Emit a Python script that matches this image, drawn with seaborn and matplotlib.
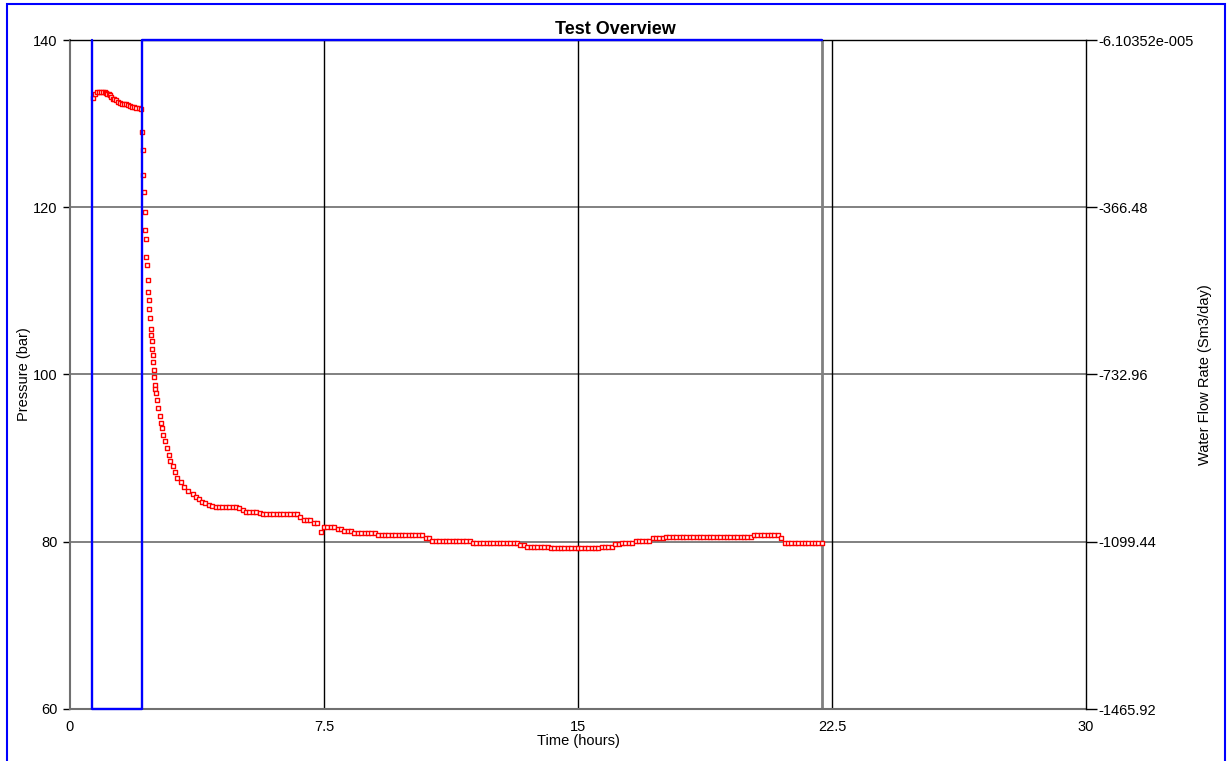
import matplotlib
matplotlib.use("Agg")
import matplotlib.pyplot as plt
from matplotlib.patches import Rectangle
import seaborn as sns
import pandas as pd

# Gauge pressure record (hours, bar)
time_h = [
    0.69, 0.74, 0.80, 0.86, 0.92, 0.97, 1.02, 1.06, 1.10, 1.14,
    1.18, 1.22, 1.26, 1.30, 1.36, 1.42, 1.48, 1.54, 1.60, 1.65,
    1.71, 1.77, 1.83, 1.89, 1.96, 2.03, 2.10,
    2.126, 2.150, 2.170, 2.190, 2.205, 2.220, 2.235, 2.255, 2.270, 2.290,
    2.305, 2.325, 2.340, 2.365, 2.383, 2.405, 2.421, 2.435, 2.448, 2.460,
    2.472, 2.485, 2.505, 2.519, 2.548, 2.578, 2.606, 2.647, 2.678, 2.708,
    2.755, 2.796, 2.855, 2.914, 2.961, 3.032, 3.091, 3.168, 3.269, 3.366,
    3.493, 3.622, 3.720,
    3.8, 3.9, 4.0, 4.1, 4.2, 4.3, 4.4, 4.5, 4.6, 4.7,
    4.8, 4.9, 5.0, 5.1, 5.2, 5.3, 5.4, 5.5, 5.6, 5.7,
    5.8, 5.9, 6.0, 6.1, 6.2, 6.3, 6.4, 6.5, 6.6, 6.7,
    6.8, 6.9, 7.0, 7.1, 7.2, 7.3, 7.4, 7.5, 7.6, 7.7,
    7.8, 7.9, 8.0, 8.1, 8.2, 8.3, 8.4, 8.5, 8.6, 8.7,
    8.8, 8.9, 9.0, 9.1, 9.2, 9.3, 9.4, 9.5, 9.6, 9.7,
    9.8, 9.9, 10.0, 10.1, 10.2, 10.3, 10.4, 10.5, 10.6, 10.7,
    10.8, 10.9, 11.0, 11.1, 11.2, 11.3, 11.4, 11.5, 11.6, 11.7,
    11.8, 11.9, 12.0, 12.1, 12.2, 12.3, 12.4, 12.5, 12.6, 12.7,
    12.8, 12.9, 13.0, 13.1, 13.2, 13.3, 13.4, 13.5, 13.6, 13.7,
    13.8, 13.9, 14.0, 14.1, 14.2, 14.3, 14.4, 14.5, 14.6, 14.7,
    14.8, 14.9, 15.0, 15.1, 15.2, 15.3, 15.4, 15.5, 15.6, 15.7,
    15.8, 15.9, 16.0, 16.1, 16.2, 16.3, 16.4, 16.5, 16.6, 16.7,
    16.8, 16.9, 17.0, 17.1, 17.2, 17.3, 17.4, 17.5, 17.6, 17.7,
    17.8, 17.9, 18.0, 18.1, 18.2, 18.3, 18.4, 18.5, 18.6, 18.7,
    18.8, 18.9, 19.0, 19.1, 19.2, 19.3, 19.4, 19.5, 19.6, 19.7,
    19.8, 19.9, 20.0, 20.1, 20.2, 20.3, 20.4, 20.5, 20.6, 20.7,
    20.8, 20.9, 21.0, 21.1, 21.2, 21.3, 21.4, 21.5, 21.6, 21.7,
    21.8, 21.9, 22.0, 22.1, 22.2,
]
pressure_bar = [
    133.1, 133.5, 133.8, 133.8, 133.8, 133.8, 133.8, 133.7, 133.6, 133.5,
    133.4, 133.2, 133.0, 132.9, 132.8, 132.6, 132.5, 132.4, 132.3, 132.3,
    132.2, 132.1, 132.0, 132.0, 131.9, 131.9, 131.7,
    129.0, 126.9, 123.9, 121.8, 119.4, 117.3, 116.2, 114.1, 113.1, 111.3,
    109.9, 108.9, 107.8, 106.8, 105.4, 104.7, 104.0, 103.0, 102.3, 101.5,
    100.5, 99.7, 98.7, 98.3, 97.8, 97.0, 96.0, 95.0, 94.2, 93.6,
    92.8, 92.1, 91.2, 90.4, 89.6, 89.0, 88.4, 87.6, 87.1, 86.6,
    86.1, 85.7, 85.3,
    85.1, 84.8, 84.6, 84.4, 84.3, 84.1, 84.1, 84.1, 84.1, 84.1,
    84.1, 84.1, 84.0, 83.8, 83.6, 83.6, 83.6, 83.6, 83.4, 83.3,
    83.3, 83.3, 83.3, 83.3, 83.3, 83.3, 83.3, 83.3, 83.3, 83.3,
    82.9, 82.6, 82.6, 82.6, 82.3, 82.3, 81.2, 81.8, 81.8, 81.8,
    81.8, 81.5, 81.5, 81.3, 81.3, 81.3, 81.1, 81.1, 81.1, 81.1,
    81.1, 81.1, 81.1, 80.8, 80.8, 80.8, 80.8, 80.8, 80.8, 80.8,
    80.8, 80.8, 80.8, 80.8, 80.8, 80.8, 80.8, 80.4, 80.4, 80.1,
    80.1, 80.1, 80.1, 80.1, 80.1, 80.1, 80.1, 80.1, 80.1, 80.1,
    80.1, 79.9, 79.9, 79.9, 79.9, 79.9, 79.9, 79.9, 79.9, 79.9,
    79.9, 79.9, 79.9, 79.9, 79.9, 79.6, 79.6, 79.4, 79.4, 79.4,
    79.4, 79.4, 79.4, 79.4, 79.2, 79.2, 79.2, 79.2, 79.2, 79.2,
    79.2, 79.2, 79.2, 79.2, 79.2, 79.2, 79.2, 79.2, 79.2, 79.4,
    79.4, 79.4, 79.4, 79.7, 79.7, 79.9, 79.9, 79.9, 79.9, 80.1,
    80.1, 80.1, 80.1, 80.1, 80.4, 80.4, 80.4, 80.4, 80.6, 80.6,
    80.6, 80.6, 80.6, 80.6, 80.6, 80.6, 80.6, 80.6, 80.6, 80.6,
    80.6, 80.6, 80.6, 80.6, 80.6, 80.6, 80.6, 80.6, 80.6, 80.6,
    80.6, 80.6, 80.6, 80.6, 80.8, 80.8, 80.8, 80.8, 80.8, 80.8,
    80.8, 80.8, 80.5, 79.9, 79.9, 79.9, 79.9, 79.9, 79.9, 79.9,
    79.9, 79.9, 79.9, 79.9, 79.9,
]

# Water flow rate history (hours, Sm3/day)
rate_time_h = [0.65, 0.65, 2.13, 2.13, 22.2]
water_rate = [0.0, -1465.92, -1465.92, 0.0, 0.0]

# Axis ticks
x_ticks = [0, 7.5, 15, 22.5, 30]
x_tick_labels = ["0", "7.5", "15", "22.5", "30"]
p_ticks = [60, 80, 100, 120, 140]
rate_ticks = [-6.10352e-05, -366.48, -732.96, -1099.44, -1465.92]
rate_tick_labels = ["-6.10352e-005", "-366.48", "-732.96", "-1099.44", "-1465.92"]
end_time_h = 22.2

sns.set_theme(style="white")
plt.rcParams["font.family"] = ["Liberation Sans", "DejaVu Sans"]
plt.rcParams["text.color"] = "black"
plt.rcParams["axes.labelcolor"] = "black"

W, H = 1231, 761
fig = plt.figure(figsize=(W / 100, H / 100), dpi=100)
fig.patch.set_facecolor("white")
ax = fig.add_axes([70 / W, 1 - 709 / H, 1016 / W, 669 / H])
ax2 = ax.twinx()

pdf = pd.DataFrame({"t": time_h, "p": pressure_bar})
rdf = pd.DataFrame({"t": rate_time_h, "q": water_rate})

# Grid
ax.set_axisbelow(True)
for yv in p_ticks[1:-1]:
    ax.axhline(yv, color="#808080", lw=1.4, zorder=0.5)
for xv in x_ticks[1:-1]:
    ax.axvline(xv, color="black", lw=1.0, zorder=0.5)
ax.axvline(end_time_h, color="#808080", lw=2.0, zorder=0.6)

sns.scatterplot(data=pdf, x="t", y="p", ax=ax, marker="s", s=11,
                facecolor="white", edgecolor="red", linewidth=1.0,
                zorder=3, legend=False)

ax.set_xlim(0, 30)
ax.set_ylim(60, 140)
ax.set_xticks(x_ticks)
ax.set_xticklabels(x_tick_labels)
ax.set_yticks(p_ticks)
ax.set_xlabel("Time (hours)", fontsize=10.5, labelpad=0, color="black")
ax.set_ylabel("Pressure (bar)", fontsize=10.5, labelpad=1, color="black")
ax.tick_params(axis="both", direction="out", length=5, width=1,
               color="black", labelsize=10.5, pad=3, labelcolor="black")
ax.tick_params(axis="y", pad=4)

sns.lineplot(data=rdf, x="t", y="q", ax=ax2, estimator=None, sort=False,
             color="#0000ff", lw=1.7, clip_on=False, zorder=4)
ax2.set_ylim(rate_ticks[-1], rate_ticks[0])
ax2.set_yticks(rate_ticks)
ax2.set_yticklabels(rate_tick_labels)
ax2.set_ylabel("Water Flow Rate (Sm3/day)", fontsize=10.5, labelpad=3,
               color="black")
ax2.tick_params(axis="y", direction="out", length=8, width=1,
                color="black", labelsize=10.5, pad=1, labelcolor="black")
ax2.set_xlim(0, 30)

# Frame styling
for name, sp in ax.spines.items():
    if name in ("left", "bottom"):
        sp.set_color("#707070")
        sp.set_linewidth(1.5)
    else:
        sp.set_visible(False)
for name, sp in ax2.spines.items():
    if name in ("top", "right"):
        sp.set_color("black")
        sp.set_linewidth(1.0)
        sp.set_zorder(1)
    else:
        sp.set_visible(False)

fig.text(0.5, 1 - 29 / H, "Test Overview", ha="center", va="center",
         fontsize=13, fontweight="bold", color="black")

# Outer blue frame
fig.patches.append(Rectangle((7 / W, -0.02), (1225 - 7) / W, 1.02 - 4 / H,
                             transform=fig.transFigure, fill=False,
                             edgecolor="#0000ff", lw=1.5))

fig.savefig("out.png", dpi=100)
